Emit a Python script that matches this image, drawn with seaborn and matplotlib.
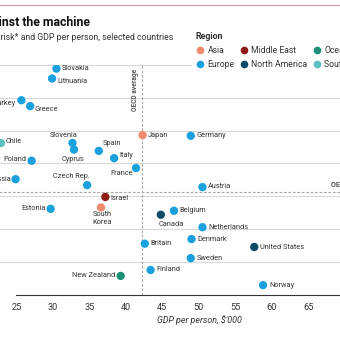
import matplotlib
matplotlib.use("Agg")
import matplotlib.pyplot as plt
from matplotlib.lines import Line2D
import pandas as pd
import seaborn as sns

# ---- data -------------------------------------------------------------
countries = ["Slovakia", "Lithuania", "Turkey", "Greece", "Chile", "Slovenia",
             "Cyprus", "Spain", "Italy", "Poland", "Japan", "France", "Russia",
             "Czech Rep.", "Israel", "Estonia", "South\nKorea", "Canada",
             "Germany", "Austria", "Belgium", "Netherlands", "Britain",
             "Finland", "New Zealand", "Denmark", "United States", "Sweden",
             "Norway"]
regions = ["Europe", "Europe", "Europe", "Europe", "South America", "Europe",
           "Europe", "Europe", "Europe", "Europe", "Asia", "Europe", "Europe",
           "Europe", "Middle East", "Europe", "Asia", "North America",
           "Europe", "Europe", "Europe", "Europe", "Europe",
           "Europe", "Oceania", "Europe", "North America", "Europe",
           "Europe"]
gdp_per_person = [30.5, 29.9, 25.7, 26.9, 22.9, 32.7,
                  32.9, 36.3, 38.4, 27.1, 42.3, 41.4, 24.9,
                  34.7, 37.2, 29.7, 36.6, 44.8,
                  48.9, 50.5, 46.6, 50.5, 42.6,
                  43.4, 39.3, 49.0, 57.6, 48.9,
                  58.8]
automation_risk = [64.4, 62.9, 59.6, 58.7, 53.1, 53.1,
                   52.1, 51.9, 50.8, 50.4, 54.3, 49.3, 47.6,
                   46.7, 44.9, 43.1, 43.3, 42.2,
                   54.2, 46.4, 42.8, 40.3, 37.8,
                   33.8, 32.9, 38.5, 37.3, 35.6,
                   31.5]

region_order = ["Asia", "Europe", "Middle East", "North America",
                "Oceania", "South America"]
oecd_gdp = 42.2
oecd_risk = 45.7
x_ticks = [25, 30, 35, 40, 45, 50, 55, 60, 65, 70]
y_ticks = [35, 40, 45, 50, 55, 60, 65]

# ---- styling ------------------------------------------------------------
region_colors = {
    "Asia": "#f28a6c",
    "Europe": "#1aa0dc",
    "Middle East": "#8c1c10",
    "North America": "#0d4c66",
    "Oceania": "#1b8e78",
    "South America": "#5cc0c0",
}

# label offsets in pixels (dx, dy) and horizontal alignment
label_layout = {
    "Slovakia": (5, 0, "left"), "Lithuania": (5, -3, "left"),
    "Turkey": (-5, -3, "right"), "Greece": (4, -3, "left"),
    "Chile": (5, 1.5, "left"), "Slovenia": (-9, 7.5, "center"),
    "Cyprus": (-1.5, -9.5, "center"), "Spain": (4, 7.5, "left"),
    "Italy": (5, 2.5, "left"), "Poland": (-5, 1.5, "right"),
    "Japan": (5.5, 0, "left"), "France": (-3.5, -5, "right"),
    "Russia": (-4, 0, "right"), "Czech Rep.": (3, 9, "right"),
    "Israel": (5, -2, "left"), "Estonia": (-5, 0, "right"),
    "Canada": (10, -10, "center"), "Germany": (5.5, 0, "left"),
    "Austria": (5, 0.5, "left"), "Belgium": (5.5, 0, "left"),
    "Netherlands": (6, -0.5, "left"), "Britain": (5.5, 0, "left"),
    "Finland": (5.5, 0, "left"), "New Zealand": (-5.5, 0, "right"),
    "Denmark": (5.5, 0, "left"), "United States": (6, -0.5, "left"),
    "Sweden": (5.5, 0, "left"), "Norway": (6, 0, "left"),
}

sns.set_style("white")
plt.rcParams["font.family"] = ["Roboto", "DejaVu Sans"]
text_color = "#333333"

W = H = 340
fig = plt.figure(figsize=(3.4, 3.4), dpi=100)


def fx(px):
    return px / W


def fy(py):
    return 1 - py / H


ax = fig.add_axes([fx(-20.2), fy(295), 365 / W, (295 - 64.7) / H])

df = pd.DataFrame({"country": countries, "region": regions,
                   "gdp": gdp_per_person, "risk": automation_risk})

ax.set_xlim(20, 70)
ax.set_ylim(30, 65)
ax.set_yticks(y_ticks)
ax.set_xticks(x_ticks)
ax.set_xticklabels([str(t) for t in x_ticks])
ax.grid(axis="y", color="#d8d8d8", lw=0.8)
ax.grid(axis="x", visible=False)
ax.set_axisbelow(True)
for side in ["top", "left", "right"]:
    ax.spines[side].set_visible(False)
ax.spines["bottom"].set_bounds(25, 70)
ax.spines["bottom"].set_color("#333333")
ax.spines["bottom"].set_linewidth(0.8)
ax.tick_params(axis="x", direction="out", length=3, width=0.8,
               color="#333333", labelsize=6.6, labelcolor=text_color, pad=3)
ax.tick_params(axis="y", length=0, labelleft=False)

# OECD average reference lines
ax.axvline(oecd_gdp, color="#a8a8a8", lw=0.8, ls=(0, (2.5, 1.5)), zorder=1)
ax.axhline(oecd_risk, color="#a8a8a8", lw=0.8, ls=(0, (2.5, 1.5)), zorder=1)
ax.annotate("OECD average", (oecd_gdp, 61.2), xytext=(-7, 0),
            textcoords="offset pixels", rotation=90, ha="center", va="center",
            fontsize=4.8, fontweight="bold", color="#555555")
ax.annotate("OECD average", (68.1, oecd_risk), xytext=(0, 7),
            textcoords="offset pixels", ha="left", va="center",
            fontsize=5.2, fontweight="bold", color="#555555")

sns.scatterplot(data=df, x="gdp", y="risk", hue="region",
                hue_order=region_order, palette=region_colors, s=36,
                linewidth=0, legend=False, ax=ax, zorder=3)

for name, x, y in zip(countries, gdp_per_person, automation_risk):
    key = name.replace("\n", " ")
    if name == "South\nKorea":
        ax.annotate(name, (x, y), xytext=(1.5, -4), textcoords="offset pixels",
                    ha="center", va="top", fontsize=5.3, color=text_color,
                    linespacing=1.05)
        continue
    dx, dy, ha = label_layout[key]
    ax.annotate(name, (x, y), xytext=(dx, dy), textcoords="offset pixels",
                ha=ha, va="center", fontsize=5.3, color=text_color)

ax.set_xlabel("GDP per person, $'000", fontsize=6.4, style="italic",
              color=text_color)
ax.xaxis.set_label_coords((199.5 + 20.2) / 365, -0.088)
ax.set_ylabel("")

# legend
handles = [Line2D([], [], ls="", marker="o", markersize=5.5,
                  markerfacecolor=region_colors[r], markeredgewidth=0)
           for r in region_order]
leg = fig.legend(handles, region_order, title="Region", ncol=3,
                 loc="upper left", bbox_to_anchor=(fx(192), fy(29)),
                 frameon=True, facecolor="white", edgecolor="none",
                 framealpha=1, fontsize=6.2, title_fontsize=6.4,
                 alignment="left", handlelength=1.0, handletextpad=0.4,
                 columnspacing=0.55, labelspacing=0.55, borderpad=0.4,
                 borderaxespad=0)
leg.get_title().set_fontweight("bold")
leg.get_title().set_color(text_color)
for t in leg.get_texts():
    t.set_color(text_color)
leg.set_zorder(10)

# headline and subtitle
fig.text(fx(90), fy(22.5), "Against the machine", ha="right", va="center",
         fontsize=8.8, fontweight="bold", color="#111111")
fig.text(fx(173), fy(37), "Automation risk* and GDP per person, selected countries",
         ha="right", va="center", fontsize=6.3, color=text_color)

# top rule
fig.add_artist(Line2D([0, 1], [fy(5), fy(5)], transform=fig.transFigure,
                      color="#c9a3a7", lw=1.0))

fig.savefig("out.png", dpi=100)
